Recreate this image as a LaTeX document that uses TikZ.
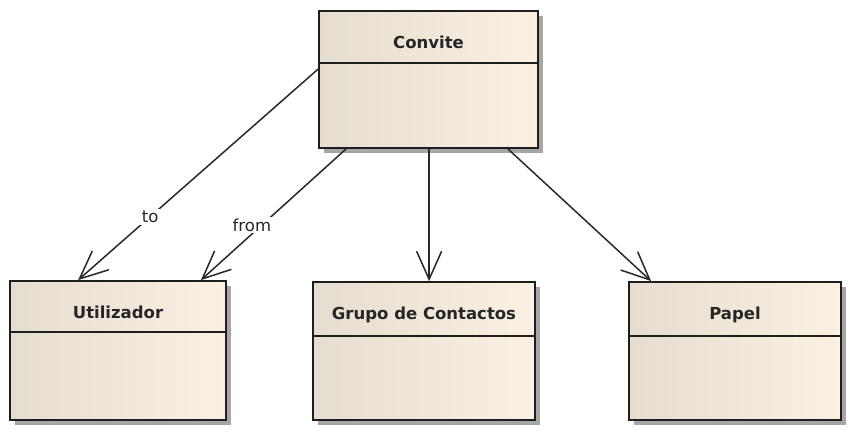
\documentclass[tikz,border=0pt]{standalone}
\usepackage{fontspec}
\setmainfont{DejaVu Sans}
\usetikzlibrary{arrows.meta,shadows}
\definecolor{boxleft}{RGB}{229,221,207}
\definecolor{boxright}{RGB}{250,241,227}
\definecolor{edge}{RGB}{30,30,30}
\definecolor{conn}{RGB}{40,40,40}
\tikzset{
  classbox/.style={draw=edge, line width=1.8pt, rectangle, inner sep=0pt,
    left color=boxleft, right color=boxright,
    drop shadow={shadow xshift=5pt, shadow yshift=-5pt, fill=black!35, opacity=1}},
  classname/.style={font=\fontsize{16.5}{18}\selectfont\bfseries, anchor=base, inner sep=0pt, text=black!85},
  sepline/.style={draw=edge, line width=1.6pt},
  assoc/.style={draw=conn, line width=1.5pt, -{Straight Barb[length=28pt, width=25pt, line width=1.5pt]}},
  rolelabel/.style={font=\fontsize{16.5}{18}\selectfont, fill=white, inner sep=2pt, text=black!85}
}
\begin{document}
\begin{tikzpicture}[x=1pt,y=-1pt]
\useasboundingbox (0,0) rectangle (849,440);
% boxes
\node[classbox, minimum width=219pt, minimum height=137pt] (conv) at (428.5,79.5) {};
\node[classbox, minimum width=216pt, minimum height=139pt] (util) at (118,350.5) {};
\node[classbox, minimum width=222pt, minimum height=138pt] (grupo) at (424,351) {};
\node[classbox, minimum width=212pt, minimum height=138pt] (papel) at (735,351) {};
% separators
\draw[sepline] ([yshift=-53pt]conv.north west) -- ([yshift=-53pt]conv.north east);
\draw[sepline] ([yshift=-52pt]util.north west) -- ([yshift=-52pt]util.north east);
\draw[sepline] ([yshift=-55pt]grupo.north west) -- ([yshift=-55pt]grupo.north east);
\draw[sepline] ([yshift=-55pt]papel.north west) -- ([yshift=-55pt]papel.north east);
% names
\node[classname] (convt) at (428.5,48) {Convite};
\node[classname] (utilt) at (118,318) {Utilizador};
\node[classname] (grupot) at (424,319) {Grupo de Contactos};
\node[classname] (papelt) at (735,319) {Papel};
% connectors
\draw[assoc] ([yshift=-59pt]conv.north west) -- node[rolelabel, pos=0.70] (tolab) {to} ([xshift=69pt]util.north west);
\draw[assoc] ([xshift=28pt]conv.south west) -- node[rolelabel, pos=0.58, xshift=-10pt] (fromlab) {from} ([xshift=-26pt]util.north east);
\draw[assoc] ([xshift=111pt]conv.south west) -- ([xshift=117pt]grupo.north west);
\draw[assoc] ([xshift=-31pt]conv.south east) -- ([xshift=23pt]papel.north west);
\end{tikzpicture}
\end{document}
